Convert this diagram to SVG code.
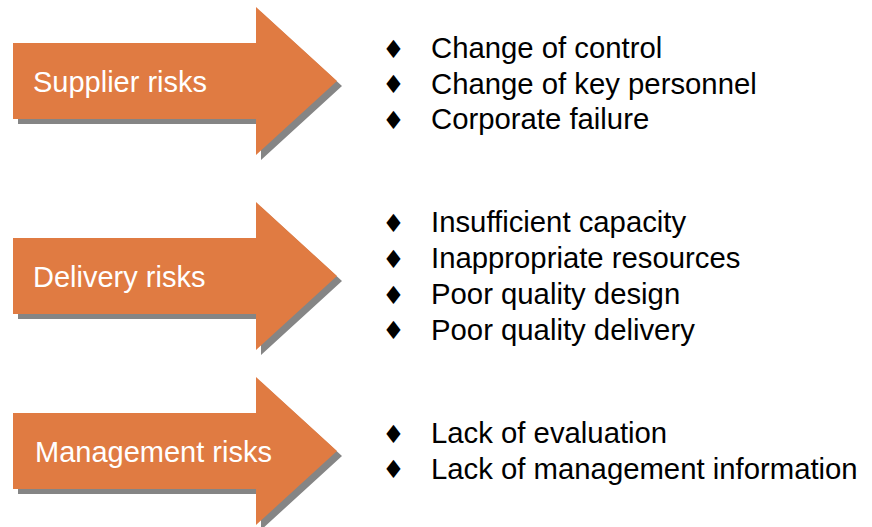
<svg xmlns="http://www.w3.org/2000/svg" xmlns:xlink="http://www.w3.org/1999/xlink" width="872" height="527" viewBox="0 0 872 527">
  <defs>
    <style>
      .arrow { fill: #E07B42; }
      .shadow { fill: #858585; }
      .label { font-family: "Liberation Sans", Arial, sans-serif; font-size: 29px; fill: #FFFFFF; }
      .item { font-family: "Liberation Sans", Arial, sans-serif; font-size: 29.3px; fill: #000000; }
      .dot { font-family: "DejaVu Sans", sans-serif; font-size: 25px; fill: #000000; text-anchor: middle; }
    </style>
    <!-- block arrow: body 13..256, head 256..337, centred on y=0 -->
    <path id="blockArrow" d="M13,-38 L256,-38 L256,-74 L337,0 L256,74 L256,38 L13,38 Z"/>
  </defs>

  <rect width="872" height="527" fill="#FFFFFF"/>

  <g id="supplier-risks">
    <use xlink:href="#blockArrow" class="shadow" transform="translate(5,86)"/>
    <use xlink:href="#blockArrow" class="arrow" transform="translate(0,81)"/>
    <text class="label" x="33" y="92">Supplier risks</text>
  </g>

  <g id="delivery-risks">
    <use xlink:href="#blockArrow" class="shadow" transform="translate(5,281)"/>
    <use xlink:href="#blockArrow" class="arrow" transform="translate(0,276)"/>
    <text class="label" x="33" y="287">Delivery risks</text>
  </g>

  <g id="management-risks">
    <use xlink:href="#blockArrow" class="shadow" transform="translate(5,456)"/>
    <use xlink:href="#blockArrow" class="arrow" transform="translate(0,451)"/>
    <text class="label" x="35" y="462">Management risks</text>
  </g>

  <g id="supplier-list">
    <text class="dot" x="393.5" y="57.5">♦</text>
    <text class="item" x="431" y="58">Change of control</text>
    <text class="dot" x="393.5" y="93">♦</text>
    <text class="item" x="431" y="93.5">Change of key personnel</text>
    <text class="dot" x="393.5" y="128.5">♦</text>
    <text class="item" x="431" y="129">Corporate failure</text>
  </g>

  <g id="delivery-list">
    <text class="dot" x="393.5" y="231.5">♦</text>
    <text class="item" x="431" y="232">Insufficient capacity</text>
    <text class="dot" x="393.5" y="267.5">♦</text>
    <text class="item" x="431" y="268">Inappropriate resources</text>
    <text class="dot" x="393.5" y="303.5">♦</text>
    <text class="item" x="431" y="304">Poor quality design</text>
    <text class="dot" x="393.5" y="339">♦</text>
    <text class="item" x="431" y="339.5">Poor quality delivery</text>
  </g>

  <g id="management-list">
    <text class="dot" x="393.5" y="442.5">♦</text>
    <text class="item" x="431" y="443">Lack of evaluation</text>
    <text class="dot" x="393.5" y="478">♦</text>
    <text class="item" x="431" y="478.5">Lack of management information</text>
  </g>

  <g id="connectors"></g>
</svg>
